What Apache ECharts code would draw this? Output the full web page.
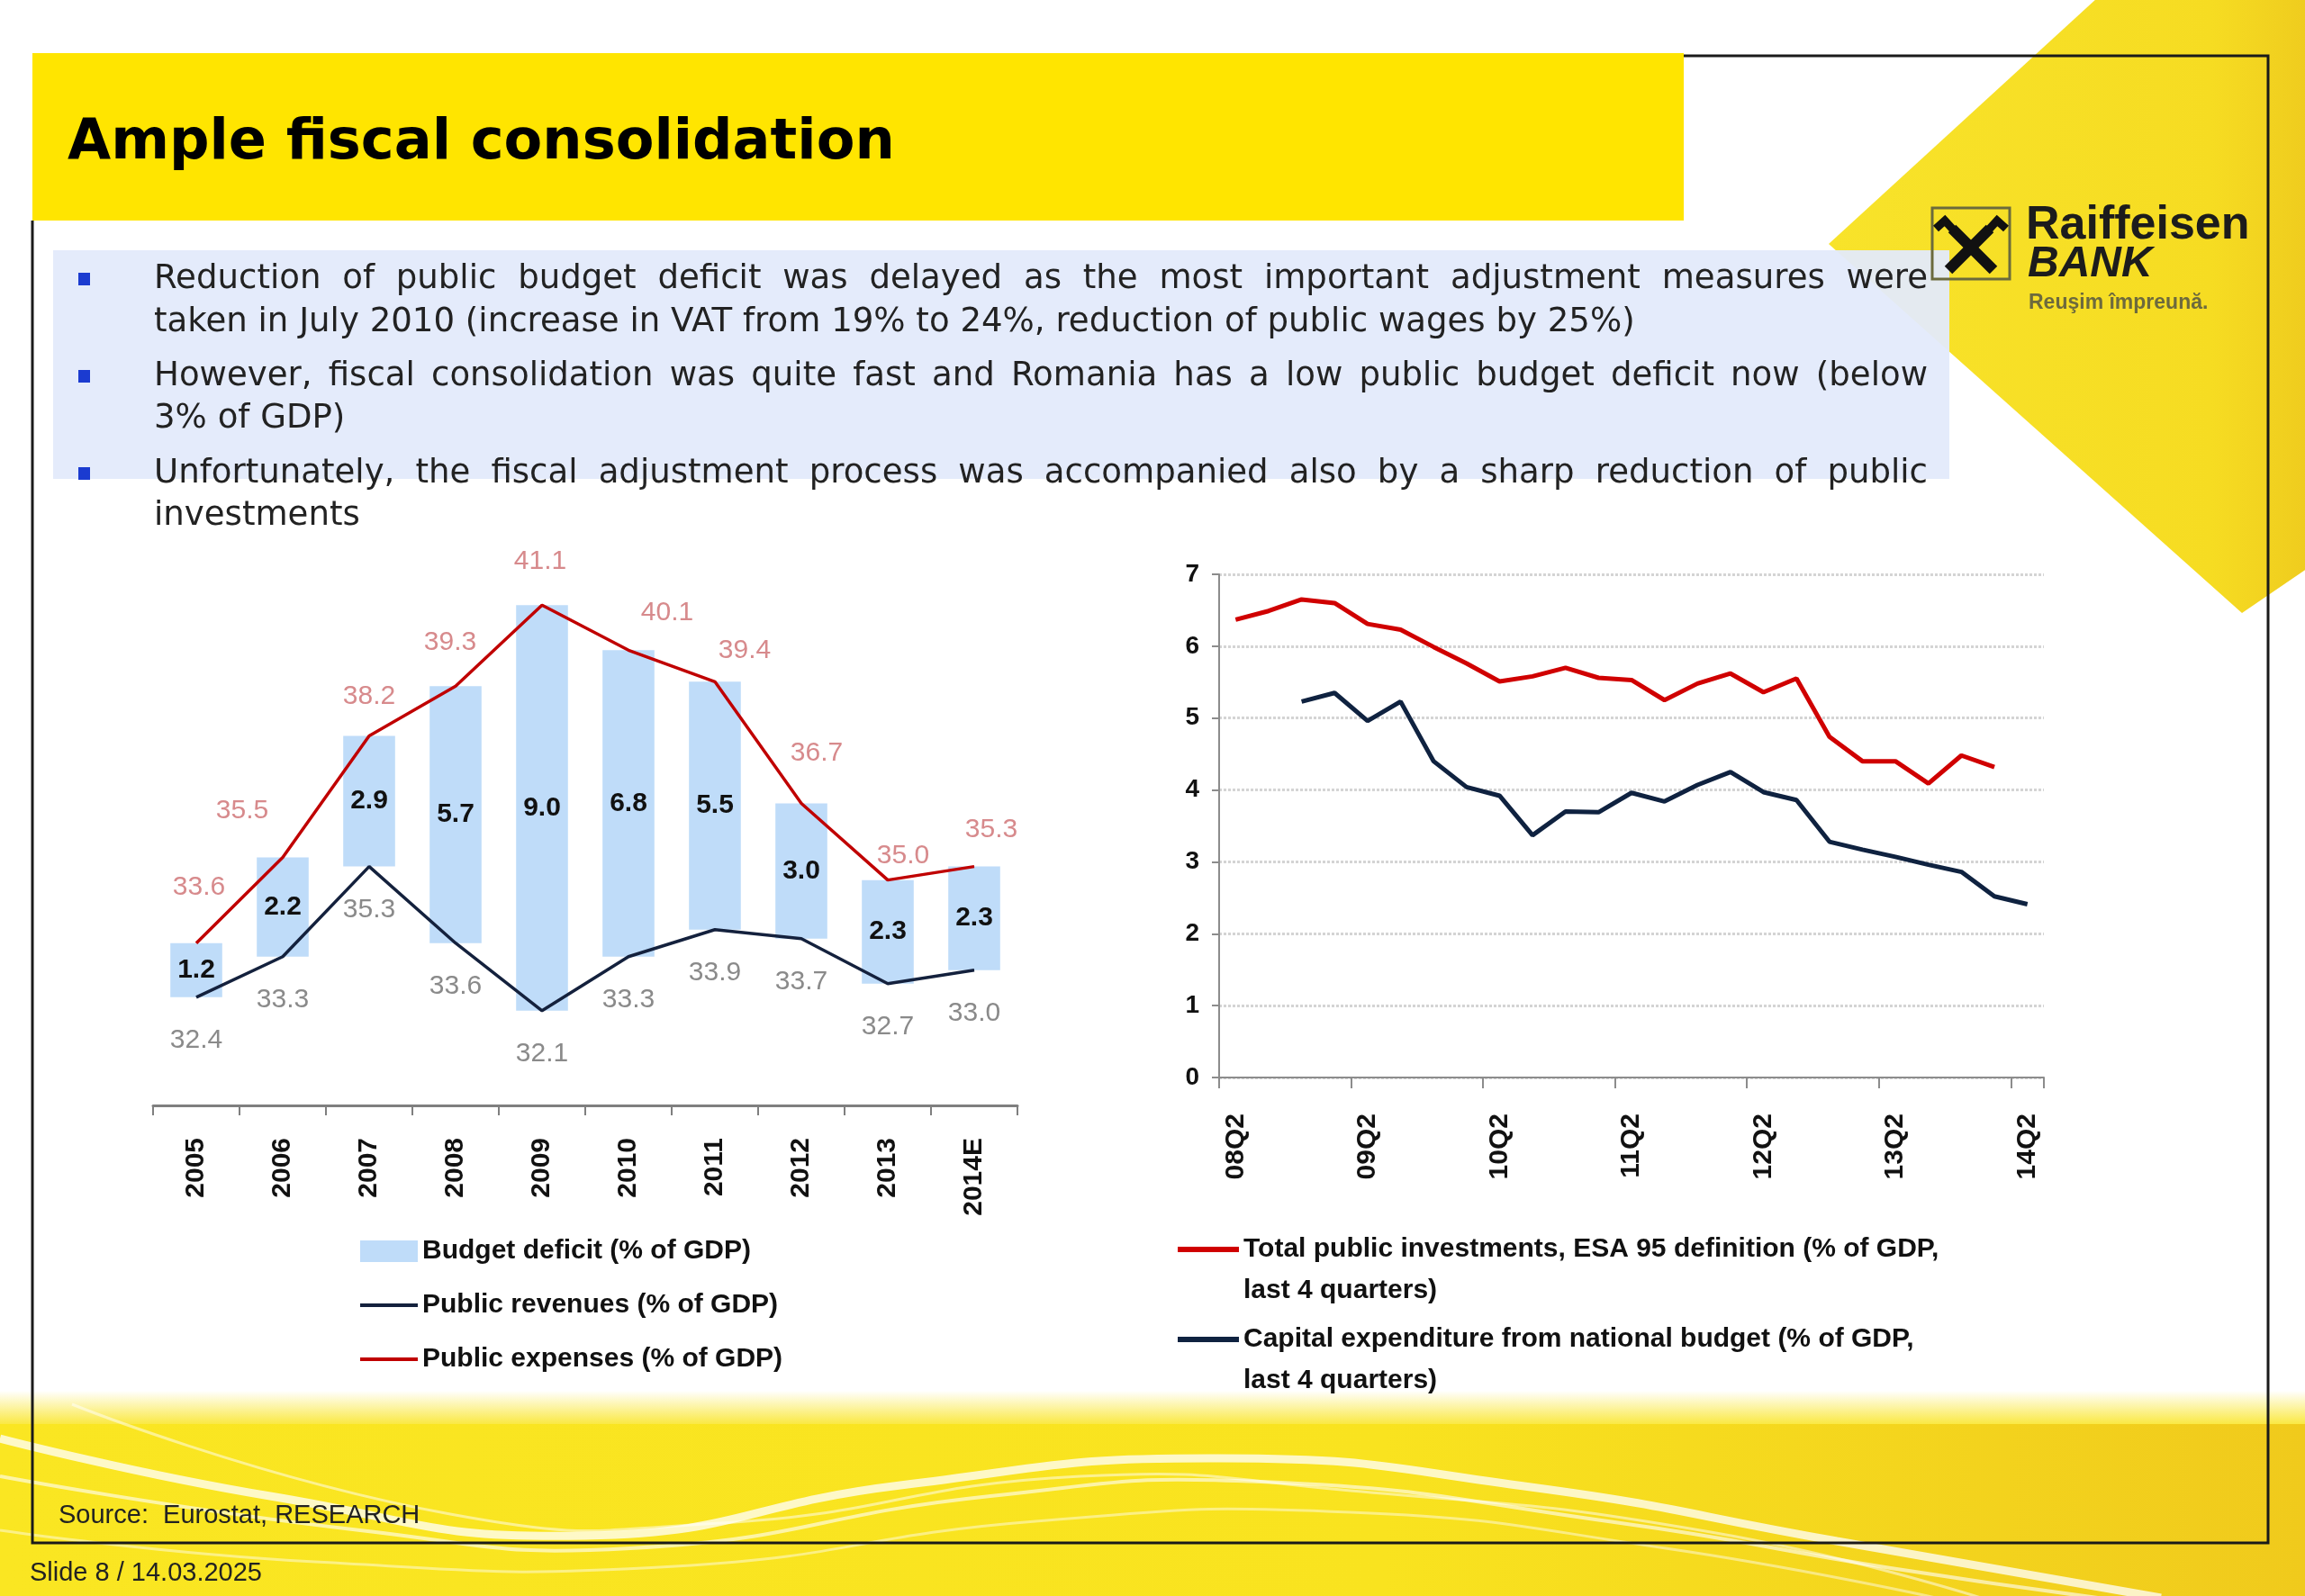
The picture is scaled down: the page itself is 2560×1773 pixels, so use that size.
<!DOCTYPE html>
<html><head><meta charset="utf-8">
<script src="https://cdn.jsdelivr.net/npm/echarts@6.0.0/dist/echarts.min.js"></script>
<style>html,body{margin:0;padding:0;background:#fff}#c{width:2560px;height:1773px}</style>
</head><body><div id="c"></div>
<script>
// ---------- data ----------
const years = ['2005','2006','2007','2008','2009','2010','2011','2012','2013','2014E'];
const revenues = [32.4,33.3,35.3,33.6,32.1,33.3,33.9,33.7,32.7,33.0];
const expenses = [33.6,35.5,38.2,39.3,41.1,40.1,39.4,36.7,35.0,35.3];
const deficit  = [1.2,2.2,2.9,5.7,9.0,6.8,5.5,3.0,2.3,2.3];

const quarters = ['08Q2','08Q3','08Q4','09Q1','09Q2','09Q3','09Q4','10Q1','10Q2','10Q3','10Q4','11Q1','11Q2','11Q3','11Q4','12Q1','12Q2','12Q3','12Q4','13Q1','13Q2','13Q3','13Q4','14Q1','14Q2'];
const totalInvestments = [6.37,6.49,6.65,6.60,6.31,6.23,5.99,5.76,5.51,5.58,5.70,5.56,5.53,5.25,5.48,5.62,5.36,5.55,4.74,4.40,4.40,4.09,4.48,4.32,null];
const capitalExpenditure = [null,null,5.23,5.35,4.96,5.23,4.40,4.04,3.92,3.37,3.70,3.69,3.96,3.84,4.07,4.25,3.97,3.86,3.28,3.17,3.07,2.96,2.86,2.52,2.41];

const bullets = [
  ['Reduction of public budget deficit was delayed as the most important adjustment measures were',
   'taken in July 2010 (increase in VAT from 19% to 24%, reduction of public wages by 25%)'],
  ['However, fiscal consolidation was quite fast and Romania has a low public budget deficit now (below',
   '3% of GDP)'],
  ['Unfortunately, the fiscal adjustment process was accompanied also by a sharp reduction of public',
   'investments']
];

// ---------- styling helpers ----------
const expLabelNudge = [[3,-47],[-45,-37],[0,-28],[-6,-33],[-2,-33],[43,-26],[33,-19],[17,-41],[17,-12],[19,-26]];
const AX = 'Liberation Sans, Arial, sans-serif';
const BODY = '"DejaVu Sans", sans-serif';

const mctx = document.createElement('canvas').getContext('2d');
function measure(t, size, family, weight){ mctx.font = (weight||'normal') + ' ' + size + 'px ' + family; return mctx.measureText(t).width; }

const graphics = [];
// Yellow diamond top right
graphics.push({type:'polygon', z:-5, shape:{points:[[2031,271],[2329,-2],[2562,-2],[2562,632],[2490,681]]},
  style:{fill:new echarts.graphic.LinearGradient(0,0,1,0,[{offset:0,color:'#f8e32a'},{offset:0.8,color:'#f6dc22'},{offset:1,color:'#efcc1e'}])}});
// Bottom band
graphics.push({type:'rect', z:-5, shape:{x:0,y:1545,width:2560,height:40},
  style:{fill:new echarts.graphic.LinearGradient(0,0,0,1,[{offset:0,color:'rgba(249,228,30,0)'},{offset:1,color:'rgba(249,228,30,0.9)'}])}});
graphics.push({type:'rect', z:-5, shape:{x:0,y:1582,width:2560,height:191},
  style:{fill:new echarts.graphic.LinearGradient(0,0,1,0,[{offset:0,color:'#fae622'},{offset:0.6,color:'#f9e31f'},{offset:1,color:'#f0ca1c'}])}});
const swooshes = [
  {pts:[[0,1598],[300,1662],[650,1706],[1000,1650],[1355,1620],[1700,1652],[2040,1712],[2400,1775]], w:9, o:0.75},
  {pts:[[0,1640],[400,1700],[700,1720],[1100,1662],[1400,1646],[1800,1692],[2100,1742],[2330,1775]], w:4, o:0.6},
  {pts:[[80,1560],[500,1682],[800,1692],[1200,1640],[1500,1656],[1900,1702],[2200,1775]], w:3, o:0.5},
  {pts:[[0,1700],[350,1735],[750,1740],[1150,1690],[1500,1680],[1850,1720],[2150,1775]], w:3, o:0.45}
];
swooshes.forEach(s => graphics.push({type:'polyline', z:-4, shape:{points:s.pts, smooth:0.5}, style:{stroke:'#ffffff', lineWidth:s.w, opacity:s.o, fill:null}}));

// Title bar
graphics.push({type:'rect', z:-3, shape:{x:36,y:59,width:1834,height:186}, style:{fill:'#ffe500'}});
const titleText = 'Ample fiscal consolidation';
const titleSize = Math.min(72, 64 * 919 / measure(titleText, 64, BODY, 'bold'));
graphics.push({type:'text', z:1, x:75, y:160, style:{text:titleText, fontSize:titleSize, fontWeight:'bold', fontFamily:BODY, fill:'#000', verticalAlign:'middle'}});
// Frame
graphics.push({type:'polyline', z:1, shape:{points:[[1870,62],[2519,62],[2519,1714],[36,1714],[36,245]]}, style:{stroke:'#1a1a1a', lineWidth:3, fill:null}});

// Bullet box
graphics.push({type:'rect', z:-2, shape:{x:59,y:278,width:2106,height:254}, style:{fill:'#e3eafb', opacity:0.95}});
const lineY = [[310,358],[418,465],[526,573]];
const textL = 171, textR = 2141;
const fs = Math.min(38, 34 * 1645 / measure(bullets[0][1], 34, BODY, 'normal'));
bullets.forEach((b, bi) => {
  graphics.push({type:'rect', z:1, shape:{x:87,y:lineY[bi][0]-7,width:13,height:14}, style:{fill:'#1b3bd0'}});
  const words = b[0].split(' ');
  const widths = words.map(w => measure(w, fs, BODY, 'normal'));
  const total = widths.reduce((a,c)=>a+c,0);
  const gap = (textR - textL - total) / (words.length - 1);
  let x = textL;
  words.forEach((w,i) => {
    graphics.push({type:'text', z:1, x:x, y:lineY[bi][0], style:{text:w, fontSize:fs, fontFamily:BODY, fill:'#222', verticalAlign:'middle'}});
    x += widths[i] + gap;
  });
  graphics.push({type:'text', z:1, x:textL, y:lineY[bi][1], style:{text:b[1], fontSize:fs, fontFamily:BODY, fill:'#222', verticalAlign:'middle'}});
});

// Logo
graphics.push({type:'rect', z:1, shape:{x:2146,y:231,width:86,height:79}, style:{fill:null, stroke:'#6b6a3c', lineWidth:3}});
graphics.push({type:'line', z:1, shape:{x1:2168,y1:254,x2:2214,y2:300}, style:{stroke:'#111', lineWidth:12}});
graphics.push({type:'line', z:1, shape:{x1:2210,y1:254,x2:2164,y2:300}, style:{stroke:'#111', lineWidth:12}});
graphics.push({type:'polyline', z:1, shape:{points:[[2170,256],[2160,245],[2150,254]]}, style:{stroke:'#111', lineWidth:9, fill:null}});
graphics.push({type:'polyline', z:1, shape:{points:[[2208,256],[2218,245],[2228,254]]}, style:{stroke:'#111', lineWidth:9, fill:null}});
graphics.push({type:'text', z:1, x:2250, y:251, style:{text:'Raiffeisen', fontSize:52, fontWeight:'bold', fontFamily:AX, fill:'#1c1c1c', verticalAlign:'middle'}});
graphics.push({type:'text', z:1, x:2252, y:294, style:{text:'BANK', fontSize:48, fontWeight:'bold', fontStyle:'italic', fontFamily:AX, fill:'#1c1c1c', verticalAlign:'middle'}});
graphics.push({type:'text', z:1, x:2253, y:337, style:{text:'Reuşim împreună.', fontSize:23, fontWeight:'bold', fontFamily:AX, fill:'#6d6a3d', verticalAlign:'middle'}});

// Footer texts
graphics.push({type:'text', z:1, x:65, y:1684, style:{text:'Source:  Eurostat, RESEARCH', fontSize:29, fontFamily:AX, fill:'#222', verticalAlign:'middle'}});
graphics.push({type:'text', z:1, x:33, y:1748, style:{text:'Slide 8 / 14.03.2025', fontSize:29, fontFamily:AX, fill:'#222', verticalAlign:'middle'}});

// ---------- chart ----------
const chart = echarts.init(document.getElementById('c'), null, {renderer:'canvas'});
const NAME_BAR = 'Budget deficit (% of GDP)';
const NAME_REV = 'Public revenues (% of GDP)';
const NAME_EXP = 'Public expenses (% of GDP)';
const NAME_TOT = 'Total public investments, ESA 95 definition (% of GDP, last 4 quarters)';
const NAME_CAP = 'Capital expenditure from national budget (% of GDP, last 4 quarters)';
const lineIconPath = 'path://M0,0L0.1,0ZM0,20L68,20L68,26L0,26ZM0,92L0.1,92Z';
const smallLineIcon = 'path://M0,0L0.1,0ZM0,10L64,10L64,14L0,14ZM0,24L0.1,24Z';

const option = {
  animation:false,
  backgroundColor:'#ffffff',
  graphic:{elements:graphics},
  grid:[
    {left:170, top:527, width:960, height:701},
    {left:1354, top:638, width:916, height:559}
  ],
  xAxis:[
    {gridIndex:0, type:'category', data:years, boundaryGap:true,
     axisLine:{lineStyle:{color:'#7f7f7f', width:3}},
     axisTick:{show:true, length:11, lineStyle:{color:'#7f7f7f', width:2}},
     axisLabel:{rotate:90, margin:36, fontSize:30, fontWeight:'bold', fontFamily:AX, color:'#111', interval:0}},
    {gridIndex:1, type:'category', data:quarters, boundaryGap:true,
     axisLine:{lineStyle:{color:'#8c8c8c', width:2}},
     axisTick:{show:true, interval:3, length:12, lineStyle:{color:'#8c8c8c', width:2}},
     axisLabel:{rotate:90, interval:3, margin:40, fontSize:30, fontWeight:'bold', fontFamily:AX, color:'#111'}}
  ],
  yAxis:[
    {gridIndex:0, type:'value', min:30, max:44, show:false, splitLine:{show:false}},
    {gridIndex:1, type:'value', min:0, max:7, interval:1,
     axisLine:{show:true, lineStyle:{color:'#8c8c8c', width:2}},
     axisTick:{show:true, length:8, lineStyle:{color:'#8c8c8c', width:2}},
     axisLabel:{margin:22, fontSize:28, fontWeight:'bold', fontFamily:AX, color:'#111'},
     splitLine:{show:true, lineStyle:{color:'#d4d4d4', width:3, type:[3,2]}}}
  ],
  legend:[
    {orient:'vertical', left:395, top:1368, itemWidth:64, itemHeight:24, itemGap:26, selectedMode:false,
     textStyle:{fontSize:30, fontWeight:'bold', fontFamily:AX, color:'#111', lineHeight:34},
     data:[{name:NAME_BAR, icon:'rect'},
           {name:NAME_REV, icon:smallLineIcon, itemStyle:{borderWidth:0}},
           {name:NAME_EXP, icon:smallLineIcon, itemStyle:{borderWidth:0}}]},
    {orient:'vertical', left:1303, top:1360, itemWidth:68, itemHeight:92, itemGap:8, selectedMode:false,
     textStyle:{fontSize:30, fontWeight:'bold', fontFamily:AX, color:'#111', lineHeight:46},
     formatter:function(n){ return n.replace('GDP, last', 'GDP,\nlast'); },
     data:[{name:NAME_TOT, icon:lineIconPath, itemStyle:{borderWidth:0}}, {name:NAME_CAP, icon:lineIconPath, itemStyle:{borderWidth:0}}]}
  ],
  series:[
    {name:'base', type:'bar', stack:'d', xAxisIndex:0, yAxisIndex:0, data:revenues, barWidth:'60%', silent:true,
     itemStyle:{color:'rgba(0,0,0,0)'}, label:{show:false}, z:1},
    {name:NAME_BAR, type:'bar', stack:'d', xAxisIndex:0, yAxisIndex:0, data:deficit, barWidth:'60%',
     itemStyle:{color:'#bfdcf9'}, z:1,
     label:{show:true, position:'inside', fontSize:30, fontWeight:'bold', fontFamily:AX, color:'#111', formatter:p=>Number(p.value).toFixed(1)}},
    {name:NAME_REV, type:'line', xAxisIndex:0, yAxisIndex:0, data:revenues, symbol:'circle', symbolSize:0.5, showSymbol:true, z:3,
     lineStyle:{color:'#14213d', width:3.5}, itemStyle:{color:'#14213d'},
     label:{show:true, position:'bottom', distance:33, fontSize:30, lineHeight:30, fontFamily:AX, color:'#8a8a8a', formatter:p=>Number(p.value).toFixed(1)}},
    {name:NAME_EXP, type:'line', xAxisIndex:0, yAxisIndex:0, symbol:'circle', symbolSize:0.5, showSymbol:true, z:3,
     data:expenses.map((v,i)=>({value:v, label:{offset:expLabelNudge[i]}})),
     lineStyle:{color:'#c00000', width:3.5}, itemStyle:{color:'#c00000'},
     label:{show:true, position:'top', distance:0, fontSize:30, lineHeight:30, fontFamily:AX, color:'#d78a8c', formatter:p=>Number(p.value).toFixed(1)}},
    {name:NAME_TOT, type:'line', xAxisIndex:1, yAxisIndex:1, data:totalInvestments, symbol:'none', connectNulls:false, z:3,
     lineStyle:{color:'#d00000', width:5}, itemStyle:{color:'#d00000'}},
    {name:NAME_CAP, type:'line', xAxisIndex:1, yAxisIndex:1, data:capitalExpenditure, symbol:'none', connectNulls:false, z:3,
     lineStyle:{color:'#0f2240', width:5}, itemStyle:{color:'#0f2240'}}
  ]
};
chart.setOption(option);
</script></body></html>
